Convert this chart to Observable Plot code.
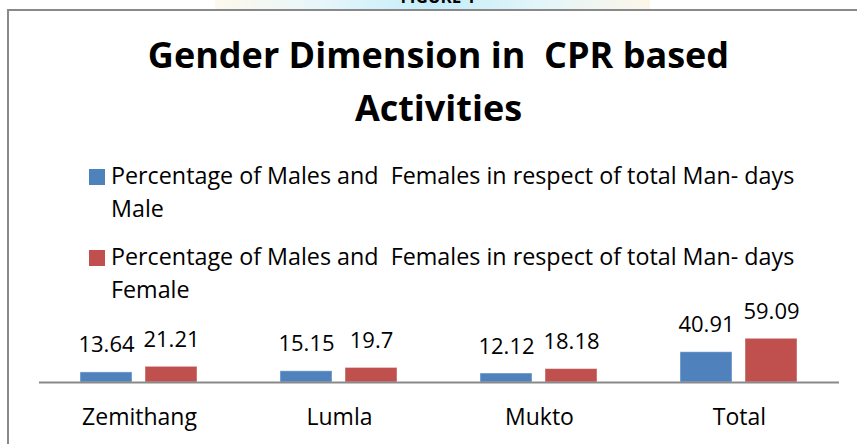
<!DOCTYPE html>
<html>
<head>
<meta charset="utf-8">
<script src="https://cdn.jsdelivr.net/npm/d3@7"></script>
<script src="https://cdn.jsdelivr.net/npm/@observablehq/plot@0.6"></script>
<style>
  html, body { margin: 0; padding: 0; background: #fff; }
  body { width: 857px; height: 444px; overflow: hidden; font-family: "Open Sans", sans-serif; }
  #wrap { position: relative; width: 857px; height: 444px; overflow: hidden; }
  #strip { position: absolute; left: 215px; top: 0; width: 435px; height: 10px;
    background: linear-gradient(to right, #fdf9ec 0%, #e6f6fb 25%, #c4edf9 50%, #e3f5fa 75%, #fdf6e8 100%); }
  #figlabel { position: absolute; left: 0; width: 876px; top: -13px; text-align: center;
    font: bold 17px "Open Sans", sans-serif; color: #000; line-height: 20px; }
  #box { position: absolute; left: 7px; top: 9px; width: 900px; height: 500px;
    border: 2px solid #898989; box-sizing: border-box; }
  #title { position: absolute; left: 0; width: 877px; top: 27.5px; text-align: center;
    font: bold 36px "Open Sans", sans-serif; line-height: 53px; color: #000; white-space: pre; }
  .leg { position: absolute; left: 111px; font: 23.3px "Open Sans", sans-serif; line-height: 33px;
    height: 33px; color: #000; white-space: pre; }
  .sw { position: absolute; left: 89px; width: 16px; height: 16px; }
  #chart { position: absolute; left: 0; top: 300px; }
  #chart svg { overflow: visible; }
</style>
</head>
<body>
<div id="wrap">
  <div id="strip"></div>
  <div id="figlabel">FIGURE 1</div>
  <div id="box"></div>
  <div id="title"></div>
  <div id="legend"></div>
  <div id="chart"></div>
</div>
<script>
const titleLines = ["Gender Dimension in  CPR based", "Activities"];
const categories = ["Zemithang", "Lumla", "Mukto", "Total"];
const seriesNames = ["Male", "Female"];
const legendPrefix = "Percentage of Males and  Females in respect of total Man- days";
const seriesColors = ["#4f81bd", "#c0504d"];
const maleValues = [13.64, 15.15, 12.12, 40.91];
const femaleValues = [21.21, 19.7, 18.18, 59.09];

document.getElementById("title").textContent = titleLines.join("\n");

const legend = document.getElementById("legend");
const legendTops = [158.6, 239.6];
seriesNames.forEach((name, i) => {
  const sw = document.createElement("div");
  sw.className = "sw";
  sw.style.top = (legendTops[i] + 10.4) + "px";
  sw.style.background = seriesColors[i];
  legend.appendChild(sw);
  [legendPrefix, name].forEach((line, j) => {
    const tx = document.createElement("div");
    tx.className = "leg";
    tx.style.top = (legendTops[i] + j * 33) + "px";
    tx.textContent = line;
    legend.appendChild(tx);
  });
});

const data = [];
categories.forEach((c, i) => {
  data.push({category: c, series: seriesNames[0], value: maleValues[i]});
  data.push({category: c, series: seriesNames[1], value: femaleValues[i]});
});

const chart = Plot.plot({
  width: 857,
  height: 144,
  marginLeft: 38,
  marginRight: 17,
  marginTop: 8,
  marginBottom: 62,
  style: {fontFamily: "Open Sans, sans-serif", background: "transparent", overflow: "visible"},
  fx: {domain: categories, padding: 0, label: null},
  x: {domain: seriesNames, paddingInner: 0.197, paddingOuter: 0.617, axis: null},
  y: {domain: [0, 100], axis: null},
  color: {domain: seriesNames, range: seriesColors},
  marks: [
    Plot.barY(data, {fx: "category", x: "series", y: "value", fill: "series",
      stroke: "#ffffff", strokeOpacity: 0.45, strokeWidth: 1}),
    Plot.ruleY([0], {stroke: "#898989", strokeWidth: 2}),
    Plot.text(data, {fx: "category", x: "series", y: "value", text: d => String(d.value),
      lineAnchor: "bottom", dy: -20, fontSize: 22, fill: "#000"}),
    Plot.axisFx({anchor: "bottom", tickSize: 0, tickPadding: 26, fontSize: 23, label: null, color: "#000"})
  ]
});
document.getElementById("chart").appendChild(chart);
</script>
</body>
</html>
